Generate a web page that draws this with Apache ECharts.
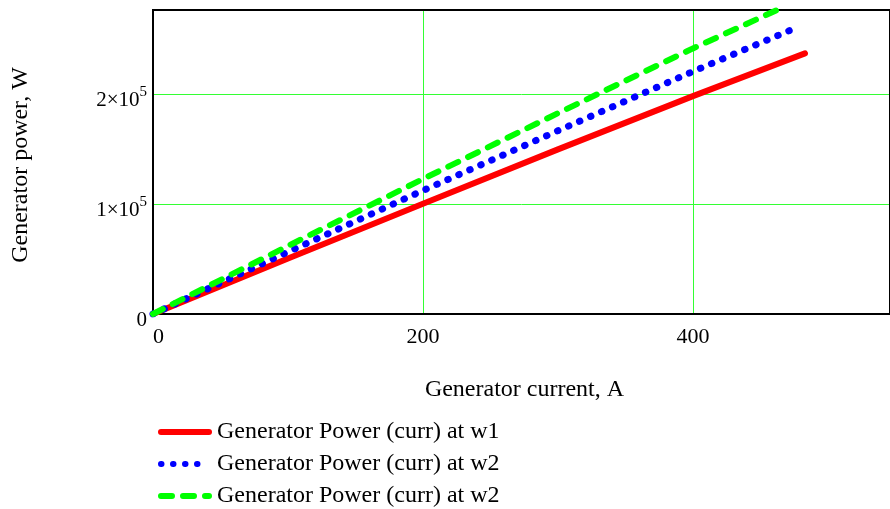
<!DOCTYPE html>
<html>
<head>
<meta charset="utf-8">
<script src="https://cdn.jsdelivr.net/npm/echarts@6/dist/echarts.min.js"></script>
<style>
  html, body { margin: 0; padding: 0; background: #fff; }
</style>
</head>
<body>
<div id="main" style="width: 890px; height: 509px;"></div>
<script>
// generator current, A
const currW1 = [0, 100, 200, 300, 400, 483];
const currW2 = [0, 100, 200, 300, 400, 472];
const currW2b = [0, 100, 200, 300, 400, 465];
// generator power, W
const powerW1 = [0, 50500, 100500, 150000, 198500, 237500];
const powerW2 = [0, 56500, 112500, 167000, 221000, 258500];
const powerW2b = [0, 62000, 123000, 183000, 242000, 278500];
const seriesNames = [
    'Generator Power (curr) at w1',
    'Generator Power (curr) at w2',
    'Generator Power (curr) at w2 '
];

const font = '"Liberation Serif", "Times New Roman", serif';
const gridGreen = '#33ff33';
const pairs = (xs, ys) => xs.map((x, i) => [x, ys[i]]);

let chart = echarts.init(document.getElementById('main'));
chart.setOption({
    animation: false,
    textStyle: { fontFamily: font, color: '#000' },
    grid: {
        left: 153,
        right: -4,
        top: 10,
        bottom: 195,
        show: true,
        borderColor: '#000',
        borderWidth: 2,
        z: 3,
    },
    legend: {
        orient: 'vertical',
        left: 158,
        top: 420,
        padding: 0,
        itemWidth: 48,
        itemHeight: 14,
        itemGap: 8,
        itemStyle: { color: 'transparent', borderWidth: 0, opacity: 0 },
        lineStyle: { width: 6, cap: 'round' },
        textStyle: {
            fontFamily: font,
            fontSize: 24,
            color: '#000',
            lineHeight: 24,
            padding: [0, 0, 0, 3],
        },
        formatter: name => name.trim(),
        data: seriesNames,
    },
    xAxis: {
        type: 'value',
        min: 0,
        max: 546,
        interval: 200,
        name: 'Generator current, A',
        nameLocation: 'middle',
        nameGap: 64,
        nameTextStyle: { fontFamily: font, fontSize: 24, color: '#000', padding: [0, 0, 0, 6] },
        axisLine: { show: false },
        axisTick: { show: false },
        axisLabel: {
            fontFamily: font,
            fontSize: 22,
            color: '#000',
            margin: 12,
            showMaxLabel: false,
            alignMinLabel: 'left',
        },
        splitLine: {
            show: true,
            showMinLine: false,
            showMaxLine: false,
            lineStyle: { color: gridGreen, width: 1 },
        },
    },
    yAxis: {
        type: 'value',
        min: 0,
        max: 277000,
        interval: 100000,
        name: 'Generator power, W',
        nameLocation: 'middle',
        nameGap: 120,
        nameTextStyle: { fontFamily: font, fontSize: 24, color: '#000', padding: [0, 6, 0, 0] },
        axisLine: { show: false },
        axisTick: { show: false },
        axisLabel: {
            margin: 6,
            showMaxLabel: false,
            formatter: function (v) {
                if (v === 0) return '{n|0}';
                return '{n|' + (v / 1e5) + '×10}{s|5}';
            },
            rich: {
                n: { fontFamily: font, fontSize: 21, color: '#000', padding: [12, 0, 0, 0] },
                s: { fontFamily: font, fontSize: 15, color: '#000', padding: [0, 0, 4, 0] },
            },
        },
        splitLine: {
            show: true,
            showMinLine: false,
            showMaxLine: false,
            lineStyle: { color: gridGreen, width: 1 },
        },
    },
    series: [
        {
            name: seriesNames[0],
            type: 'line',
            symbol: 'none',
            color: '#ff0000',
            lineStyle: { color: '#ff0000', width: 6, cap: 'round' },
            data: pairs(currW1, powerW1),
        },
        {
            name: seriesNames[1],
            type: 'line',
            symbol: 'none',
            color: '#0000ff',
            lineStyle: { color: '#0000ff', width: 7, type: [0.5, 11.5], cap: 'round' },
            data: pairs(currW2, powerW2),
        },
        {
            name: seriesNames[2],
            type: 'line',
            symbol: 'none',
            color: '#00ff00',
            lineStyle: { color: '#00ff00', width: 6, type: [11, 11], cap: 'round' },
            data: pairs(currW2b, powerW2b),
        }
    ]
});
</script>
</body>
</html>
